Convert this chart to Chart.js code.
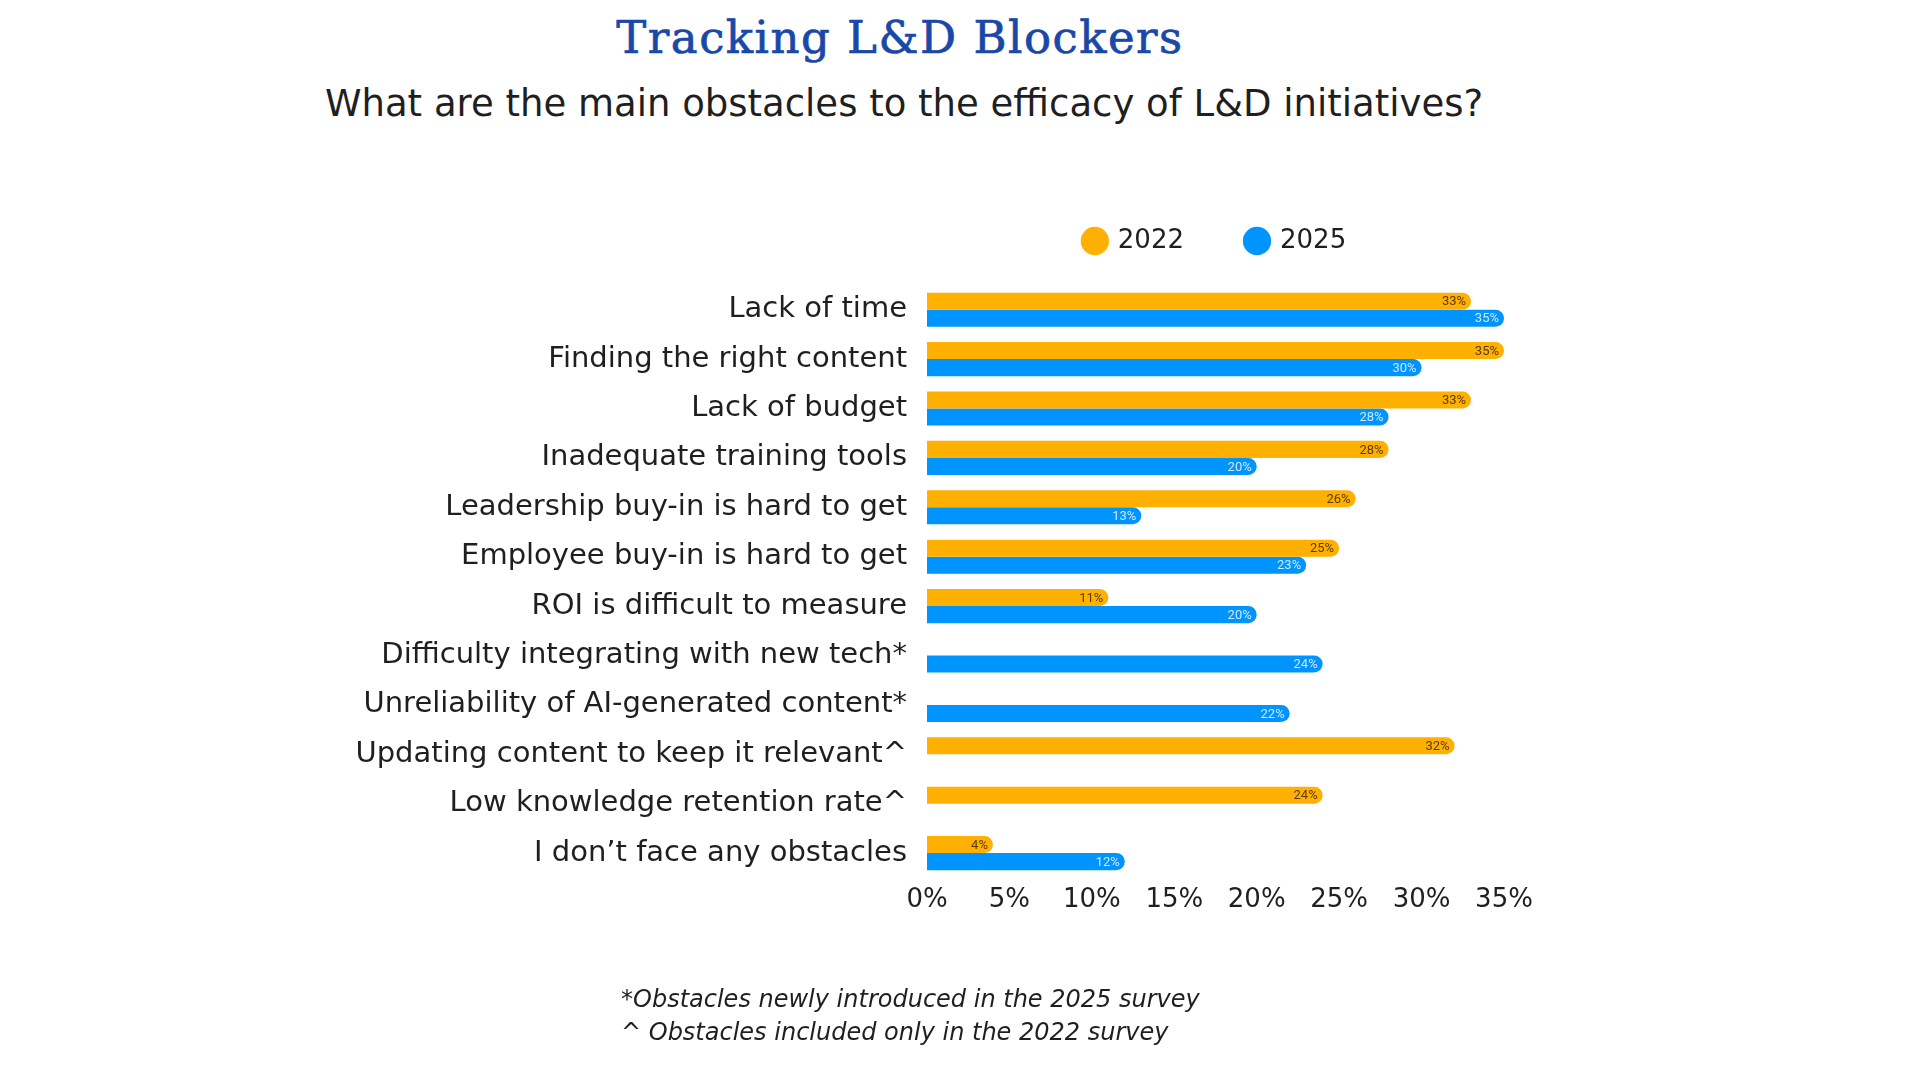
<!DOCTYPE html>
<html>
<head>
<meta charset="utf-8">
<title>Tracking L&amp;D Blockers</title>
<script src="https://cdn.jsdelivr.net/npm/chart.js@4.4.0/dist/chart.umd.min.js"></script>
<style>
    html, body { margin: 0; padding: 0; background: #fff; }
    body { width: 1920px; height: 1080px; position: relative; overflow: hidden; font-family: "DejaVu Sans", sans-serif; color: #1f1f1f; }
    #chart { position: absolute; left: 0; top: 0; }
    #title { position: absolute; left: 500px; width: 800px; top: 11px; text-align: center; font-family: "DejaVu Serif", serif; font-size: 45px; line-height: 54px; letter-spacing: 1.5px; color: #1a48a8; -webkit-text-stroke: 0.7px #1a48a8; }
    #subtitle { position: absolute; left: 304px; width: 1200px; top: 82px; text-align: center; font-size: 37px; line-height: 44px; }
    .note { position: absolute; left: 621px; font-style: italic; font-size: 24px; line-height: 28px; }
</style>
</head>
<body>
<div id="title">Tracking L&amp;D Blockers</div>
<div id="subtitle">What are the main obstacles to the efficacy of L&amp;D initiatives?</div>
<canvas id="chart" width="1920" height="1080"></canvas>
<div class="note" style="top: 985px;">*Obstacles newly introduced in the 2025 survey</div>
<div class="note" style="top: 1018px;">^ Obstacles included only in the 2022 survey</div>

<script>
const categories = [
    'Lack of time',
    'Finding the right content',
    'Lack of budget',
    'Inadequate training tools',
    'Leadership buy-in is hard to get',
    'Employee buy-in is hard to get',
    'ROI is difficult to measure',
    'Difficulty integrating with new tech*',
    'Unreliability of AI-generated content*',
    'Updating content to keep it relevant^',
    'Low knowledge retention rate^',
    'I don\u2019t face any obstacles'
];
const values2022 = [33, 35, 33, 28, 26, 25, 11, null, null, 32, 24, 4];
const values2025 = [35, 30, 28, 20, 13, 23, 20, 24, 22, null, null, 12];
const seriesNames = ['2022', '2025'];
const xTickStep = 5;
const xMax = 35;

const ORANGE = '#FFB000';
const BLUE = '#0094FF';

// small % labels drawn at the end of each bar
const barLabels = {
    id: 'barLabels',
    afterDatasetsDraw(chart) {
        const ctx = chart.ctx;
        ctx.save();
        ctx.font = '13px Roboto, sans-serif';
        ctx.textAlign = 'right';
        ctx.textBaseline = 'middle';
        chart.data.datasets.forEach((ds, i) => {
            chart.getDatasetMeta(i).data.forEach((bar, j) => {
                const v = ds.data[j];
                if (v === null || v === undefined) return;
                ctx.fillStyle = i === 0 ? '#5a3c00' : '#cfe7ff';
                ctx.fillText(v + '%', bar.x - 5, bar.y + 1);
            });
        });
        ctx.restore();
    }
};

Chart.defaults.font.family = "'DejaVu Sans', sans-serif";
Chart.defaults.color = '#1f1f1f';

new Chart(document.getElementById('chart').getContext('2d'), {
    type: 'bar',
    data: {
        labels: categories,
        datasets: [{
            label: seriesNames[0],
            data: values2022,
            backgroundColor: ORANGE,
            borderRadius: 9
        }, {
            label: seriesNames[1],
            data: values2025,
            backgroundColor: BLUE,
            borderRadius: 9
        }]
    },
    options: {
        indexAxis: 'y',
        responsive: false,
        animation: false,
        devicePixelRatio: 1,
        categoryPercentage: 0.69,
        barPercentage: 1,
        layout: {
            padding: { top: 165, right: 416, bottom: 157, left: 0 }
        },
        plugins: {
            legend: {
                position: 'top',
                fullSize: false,
                labels: {
                    usePointStyle: true,
                    pointStyle: 'circle',
                    boxWidth: 20,
                    boxHeight: 20,
                    padding: 63,
                    font: { size: 26 },
                    color: '#1f1f1f'
                }
            },
            // empty title used only as a gap between legend and bars
            title: {
                display: true,
                text: '',
                weight: 500,
                padding: 0,
                font: { size: 21, lineHeight: 1 }
            },
            tooltip: { enabled: false }
        },
        scales: {
            x: {
                min: 0,
                max: xMax,
                grid: { display: false, drawTicks: false },
                border: { display: false },
                ticks: {
                    stepSize: xTickStep,
                    autoSkip: false,
                    padding: 7,
                    font: { size: 26 },
                    color: '#1f1f1f',
                    callback: v => v + '%'
                }
            },
            y: {
                grid: { display: false, drawTicks: false },
                border: { display: false },
                ticks: {
                    autoSkip: false,
                    padding: 20,
                    font: { size: 29 },
                    color: '#1f1f1f'
                },
                afterFit(scale) {
                    scale.width = 927;
                }
            }
        }
    },
    plugins: [barLabels]
});
</script>
</body>
</html>
